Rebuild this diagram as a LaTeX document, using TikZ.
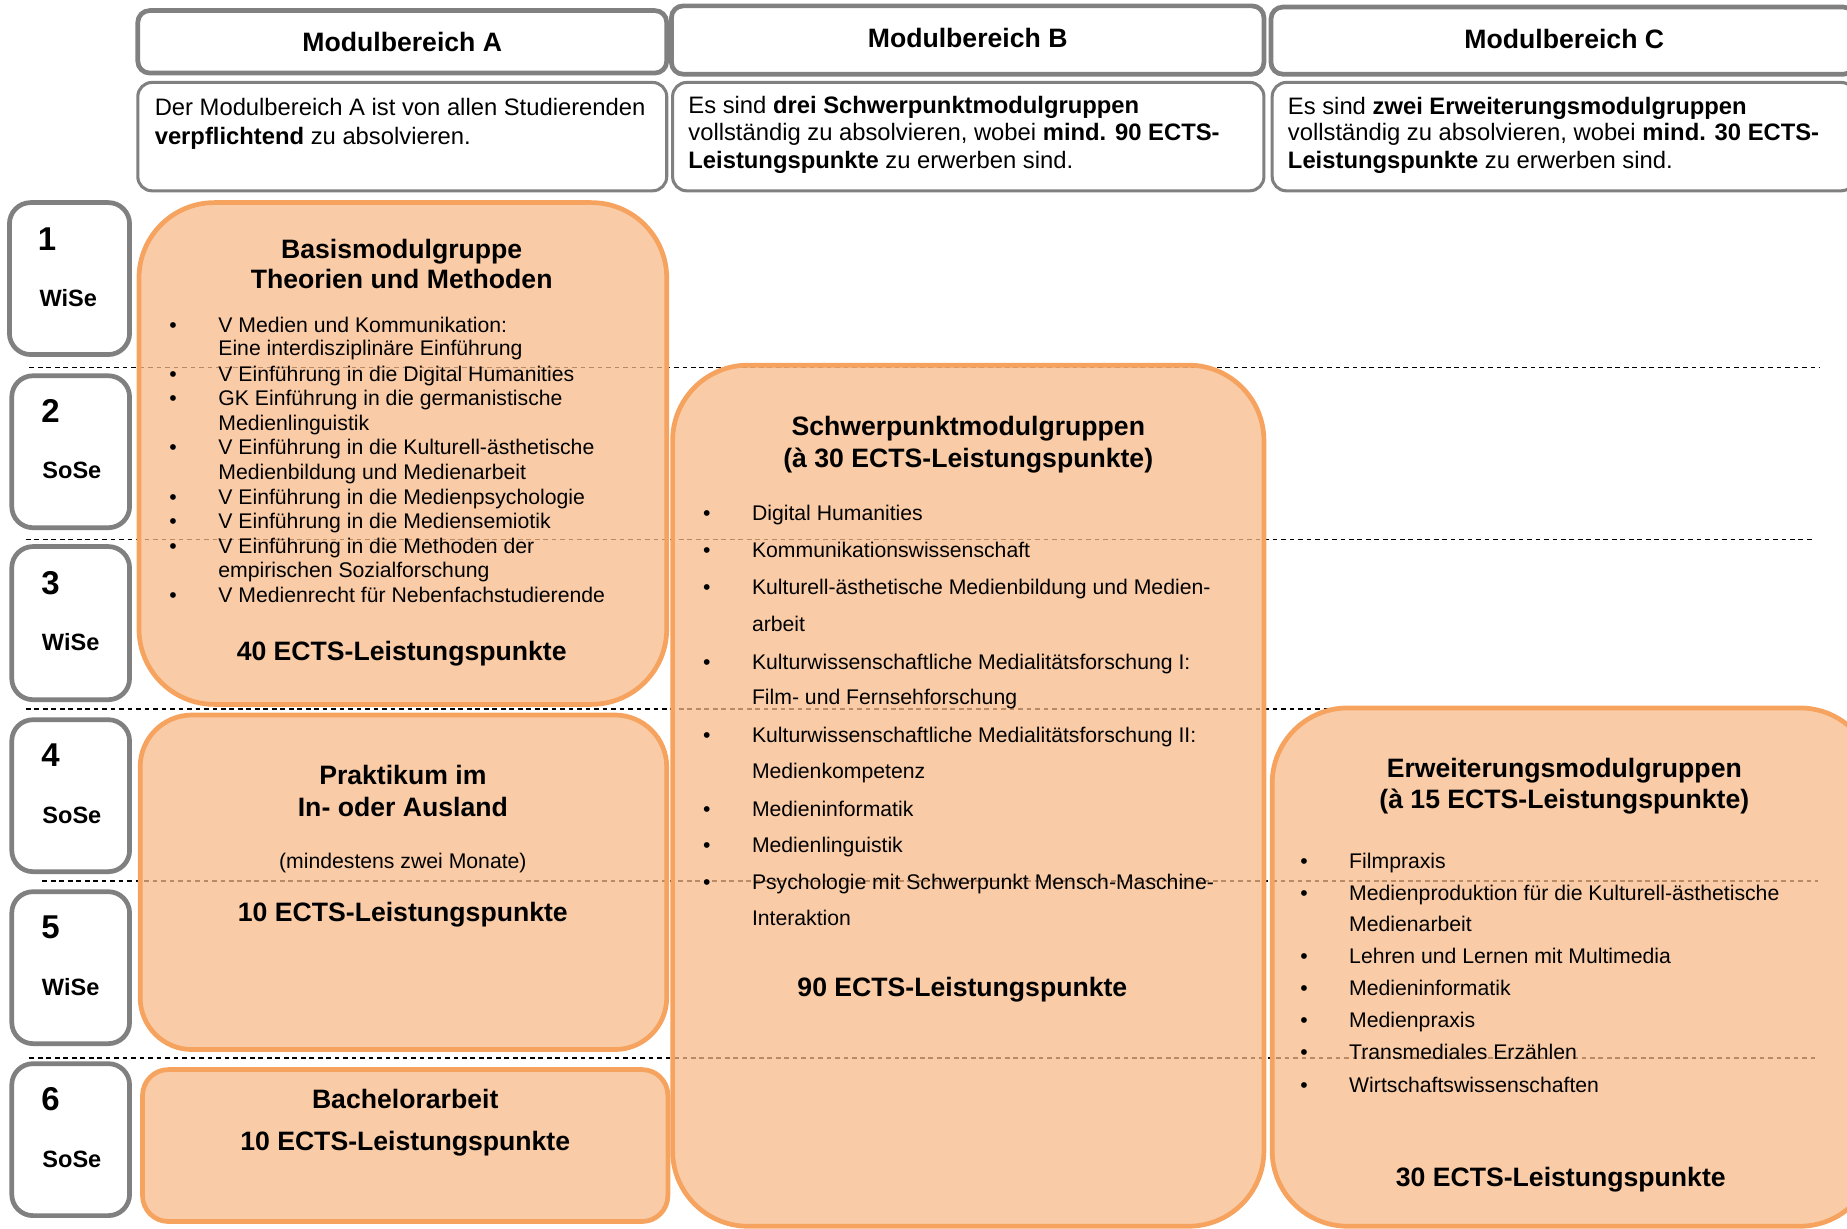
\documentclass[tikz,border=0pt]{standalone}
\usepackage{fontspec}
\setmainfont{Liberation Sans}
\definecolor{peach}{RGB}{247,186,136}
\definecolor{obord}{RGB}{245,163,95}
\definecolor{gbord}{RGB}{128,128,128}
\newcommand\bitem[5]{\node[bul] (#1b) at (#2,#4) {•};\node[itm] (#1) at (#3,#4) {#5};}
\begin{document}
\begin{tikzpicture}[x=0.5pt,y=-0.5pt,
  gbox/.style={draw=gbord, line width=2pt, fill=white, rounded corners=5pt},
  dbox/.style={draw=gbord, line width=1.3pt, fill=white, rounded corners=6pt},
  sbox/.style={draw=gbord, line width=2pt, fill=white, rounded corners=9pt},
  obox/.style={draw=obord, line width=2pt, fill=peach, fill opacity=0.75},
  sepline/.style={black, line width=0.6pt, dash pattern=on 2pt off 1.6pt},
  hdr/.style={font=\fontsize{11.3}{13}\selectfont\bfseries, anchor=mid, inner sep=0},
  ttl/.style={font=\fontsize{11.3}{13}\selectfont\bfseries, anchor=mid, inner sep=0},
  desc/.style={font=\fontsize{10.1}{12}\selectfont, anchor=mid west, inner sep=0},
  itm/.style={font=\fontsize{9}{11}\selectfont, anchor=mid west, inner sep=0},
  bul/.style={font=\fontsize{9}{11}\selectfont, anchor=mid, inner sep=0},
  snum/.style={font=\fontsize{14}{16}\selectfont\bfseries, anchor=mid, inner sep=0},
  slab/.style={font=\fontsize{10}{12}\selectfont\bfseries, anchor=mid, inner sep=0}]
\useasboundingbox (0,0) rectangle (1568,1043);
\clip (0,0) rectangle (1568,1043);

% headers
\draw[gbox] (117,9) rectangle (566,62);
\draw[gbox] (570,5) rectangle (1073,63);
\draw[gbox] (1079,6) rectangle (1575,63);

% descriptions
\draw[dbox] (117,70) rectangle (566,162);
\draw[dbox] (571,70) rectangle (1073,162);
\draw[dbox] (1080,70) rectangle (1575,162);

% semester boxes
\draw[sbox] (8,172) rectangle (110,301);
\draw[sbox] (10,319) rectangle (110,448);
\draw[sbox] (10,464) rectangle (110,594);
\draw[sbox] (10,611) rectangle (110,740);
\draw[sbox] (10,757) rectangle (110,886);
\draw[sbox] (10,903) rectangle (110,1032);

% dashed separators
\draw[sepline] (25,312) -- (1545,312);
\draw[sepline] (22,458) -- (1540,458);
\draw[sepline] (22,602) -- (1540,602);
\draw[sepline] (36,748) -- (1543,748);
\draw[sepline] (25,898) -- (1544,898);

% orange boxes
\draw[obox, rounded corners=32pt] (118,172) rectangle (566,598);
\draw[obox, rounded corners=22pt] (119,607) rectangle (566,891);
\draw[obox, rounded corners=11pt] (121,908) rectangle (567,1037);
\draw[obox, rounded corners=32pt] (571,310) rectangle (1073,1041);
\draw[obox, rounded corners=32pt] (1080,601) rectangle (1592,1041);

\begin{scope}[yshift=-1.4pt]
\node[hdr] (hA) at (341.5,36) {Modulbereich A};
\node[hdr] (hB) at (821.5,32) {Modulbereich B};
\node[hdr] (hC) at (1328,33) {Modulbereich C};

\node[desc] (dA1) at (131,90) {Der Modulbereich A ist von allen Studierenden};
\node[desc] (dA2) at (131,115) {\textbf{verpflichtend} zu absolvieren.};
\node[desc] (dB1) at (584,88) {Es sind \textbf{drei Schwerpunktmodulgruppen}};
\node[desc] (dB2) at (584,111) {vollständig zu absolvieren, wobei \textbf{mind. 90 ECTS-}};
\node[desc] (dB3) at (584,135) {\textbf{Leistungspunkte} zu erwerben sind.};
\node[desc] (dC1) at (1093,89) {Es sind \textbf{zwei Erweiterungsmodulgruppen}};
\node[desc] (dC2) at (1093,111) {vollständig zu absolvieren, wobei \textbf{mind. 30 ECTS-}};
\node[desc] (dC3) at (1093,135) {\textbf{Leistungspunkte} zu erwerben sind.};

\node[snum] (n1) at (40,205) {1};
\node[slab] (l1) at (58,252) {WiSe};
\node[snum] (n2) at (43,351) {2};
\node[slab] (l2) at (61,398) {SoSe};
\node[snum] (n3) at (43,497) {3};
\node[slab] (l3) at (60,544) {WiSe};
\node[snum] (n4) at (43,643) {4};
\node[slab] (l4) at (61,691) {SoSe};
\node[snum] (n5) at (43,789) {5};
\node[slab] (l5) at (60,837) {WiSe};
\node[snum] (n6) at (43,935) {6};
\node[slab] (l6) at (61,983) {SoSe};

% Basis
\node[ttl] (bt1) at (341,211) {Basismodulgruppe};
\node[ttl] (bt2) at (341,237) {Theorien und Methoden};
\bitem{ba1}{147}{185}{274}{V Medien und Kommunikation:}
\node[itm] (ba1c) at (185,294) {Eine interdisziplinäre Einführung};
\bitem{ba2}{147}{185}{316}{V Einführung in die Digital Humanities}
\bitem{ba3}{147}{185}{336}{GK Einführung in die germanistische}
\node[itm] (ba3c) at (185,357) {Medienlinguistik};
\bitem{ba4}{147}{185}{378}{V Einführung in die Kulturell-ästhetische}
\node[itm] (ba4c) at (185,399) {Medienbildung und Medienarbeit};
\bitem{ba5}{147}{185}{420}{V Einführung in die Medienpsychologie}
\bitem{ba6}{147}{185}{441}{V Einführung in die Mediensemiotik}
\bitem{ba7}{147}{185}{462}{V Einführung in die Methoden der}
\node[itm] (ba7c) at (185,482) {empirischen Sozialforschung};
\bitem{ba8}{147}{185}{503}{V Medienrecht für Nebenfachstudierende}
\node[ttl] (bects) at (341,553) {40 ECTS-Leistungspunkte};

% Praktikum
\node[ttl] (pt1) at (342,658) {Praktikum im};
\node[ttl] (pt2) at (342,685) {In- oder Ausland};
\node[itm, anchor=mid] (pt3) at (342,729) {(mindestens zwei Monate)};
\node[ttl] (pects) at (342,774) {10 ECTS-Leistungspunkte};

% Bachelor
\node[ttl] (bat) at (344,933) {Bachelorarbeit};
\node[ttl] (baects) at (344,969) {10 ECTS-Leistungspunkte};

% Schwerpunkt
\node[ttl] (st1) at (822,362) {Schwerpunktmodulgruppen};
\node[ttl] (st2) at (822,389) {(à 30 ECTS-Leistungspunkte)};
\bitem{sp1}{600}{638}{434}{Digital Humanities}
\bitem{sp2}{600}{638}{465}{Kommunikationswissenschaft}
\bitem{sp3}{600}{638}{497}{Kulturell-ästhetische Medienbildung und Medien-}
\node[itm] (sp3c) at (638,528) {arbeit};
\bitem{sp4}{600}{638}{560}{Kulturwissenschaftliche Medialitätsforschung I:}
\node[itm] (sp4c) at (638,590) {Film- und Fernsehforschung};
\bitem{sp5}{600}{638}{622}{Kulturwissenschaftliche Medialitätsforschung II:}
\node[itm] (sp5c) at (638,653) {Medienkompetenz};
\bitem{sp6}{600}{638}{685}{Medieninformatik}
\bitem{sp7}{600}{638}{716}{Medienlinguistik}
\bitem{sp8}{600}{638}{747}{Psychologie mit Schwerpunkt Mensch-Maschine-}
\node[itm] (sp8c) at (638,778) {Interaktion};
\node[ttl] (sects) at (817,838) {90 ECTS-Leistungspunkte};

% Erweiterung
\node[ttl] (et1) at (1328,652) {Erweiterungsmodulgruppen};
\node[ttl] (et2) at (1328,678) {(à 15 ECTS-Leistungspunkte)};
\bitem{ew1}{1107}{1145}{729}{Filmpraxis}
\bitem{ew2}{1107}{1145}{756}{Medienproduktion für die Kulturell-ästhetische}
\node[itm] (ew2c) at (1145,783) {Medienarbeit};
\bitem{ew3}{1107}{1145}{810}{Lehren und Lernen mit Multimedia}
\bitem{ew4}{1107}{1145}{837}{Medieninformatik}
\bitem{ew5}{1107}{1145}{864}{Medienpraxis}
\bitem{ew6}{1107}{1145}{891}{Transmediales Erzählen}
\bitem{ew7}{1107}{1145}{919}{Wirtschaftswissenschaften}
\node[ttl] (eects) at (1325,999) {30 ECTS-Leistungspunkte};
\end{scope}
\end{tikzpicture}
\end{document}
